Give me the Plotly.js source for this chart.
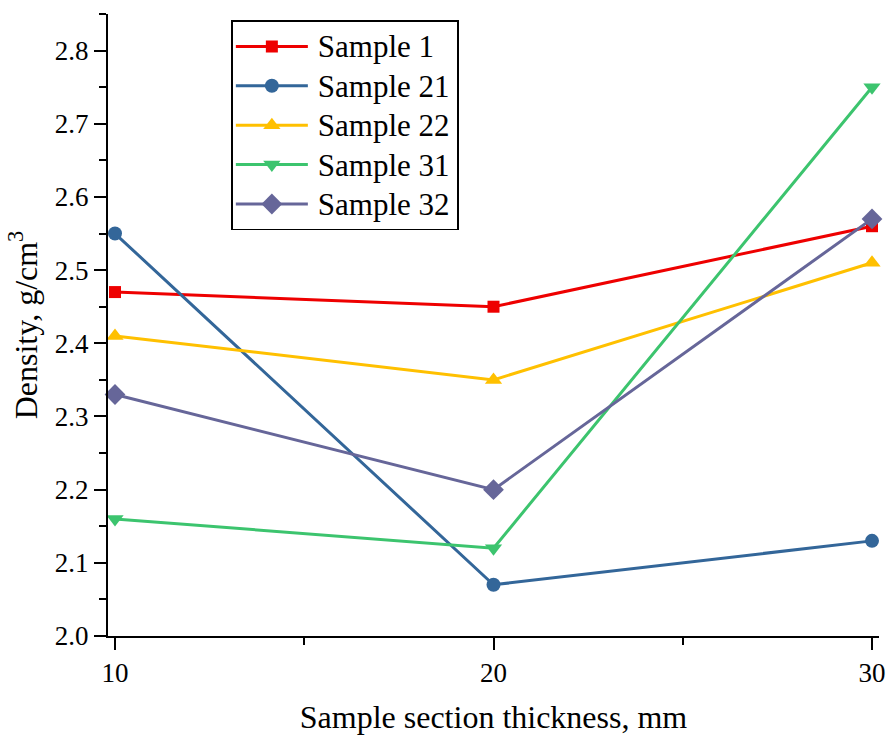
<!DOCTYPE html>
<html>
<head>
<meta charset="utf-8">
<script src="https://cdn.plot.ly/plotly-3.0.1.min.js"></script>
<style>html,body{margin:0;padding:0;background:#fff;}#chart{width:886px;height:735px;}</style>
</head>
<body>
<div id="chart"></div>
<script>
const thickness = [10, 20, 30];
const seriesNames = ["Sample 1", "Sample 21", "Sample 22", "Sample 31", "Sample 32"];
const sample1 = [2.47, 2.45, 2.56];
const sample21 = [2.55, 2.07, 2.13];
const sample22 = [2.41, 2.35, 2.51];
const sample31 = [2.16, 2.12, 2.75];
const sample32 = [2.33, 2.20, 2.57];
const xTickVals = [10, 20, 30];
const yTickVals = [2.0, 2.1, 2.2, 2.3, 2.4, 2.5, 2.6, 2.7, 2.8];

const values = [sample1, sample21, sample22, sample31, sample32];
const colors = ["#ee0000", "#336699", "#ffc000", "#3cc46e", "#666699"];
const symbols = ["square", "circle", "triangle-up", "triangle-down", "diamond"];
const sizes = [12, 14, 15, 15, 16];

const traces = values.map((v, i) => ({
  x: thickness, y: v, name: seriesNames[i], type: "scatter", mode: "lines+markers",
  line: {color: colors[i], width: 3},
  marker: {color: colors[i], symbol: symbols[i], size: sizes[i]},
  cliponaxis: false
}));

const font = "Liberation Serif";
const layout = {
  width: 886, height: 735,
  margin: {l: 108, r: 7, t: 14, b: 99},
  paper_bgcolor: "#fff", plot_bgcolor: "#fff",
  font: {family: font, color: "#000", size: 27},
  showlegend: true,
  legend: {x: 0.16, y: 0.99, xanchor: "left", yanchor: "top",
    bordercolor: "#000", borderwidth: 1.5, bgcolor: "#fff", itemwidth: 75,
    font: {family: font, size: 28, color: "#000"}, tracegroupgap: 0},
  xaxis: {
    range: [9.815, 30.185], tickvals: xTickVals, ticks: "outside", ticklen: 12, tickwidth: 2,
    tickcolor: "#000", showline: true, linecolor: "#000", linewidth: 2, showgrid: false, zeroline: false,
    minor: {dtick: 5, tick0: 10, ticks: "outside", ticklen: 7, tickwidth: 2, tickcolor: "#000"},
    tickfont: {family: font, size: 27, color: "#000"},
    title: {text: "Sample section thickness, mm", font: {family: font, size: 32, color: "#000"}, standoff: 22}
  },
  yaxis: {
    range: [2.0, 2.85], tickvals: yTickVals, tickformat: ".1f", ticks: "outside", ticklen: 12, tickwidth: 2,
    tickcolor: "#000", showline: true, linecolor: "#000", linewidth: 2, showgrid: false, zeroline: false,
    minor: {dtick: 0.05, tick0: 2.0, ticks: "outside", ticklen: 7, tickwidth: 2, tickcolor: "#000"},
    tickfont: {family: font, size: 27, color: "#000"},
    title: {text: "Density, g/cm<sup>3</sup>", font: {family: font, size: 32, color: "#000"}, standoff: 8}
  }
};
Plotly.newPlot("chart", traces, layout, {displayModeBar: false, staticPlot: true}).then(gd => {
  gd.querySelectorAll(".legend .legendlines path").forEach(p => p.setAttribute("d", "M3,0h72"));
  gd.querySelectorAll(".legend .legendpoints path").forEach(p => p.setAttribute("transform", "translate(39,0)"));
  gd.querySelectorAll(".legend text.legendtext").forEach(t => { t.style.fontSize = "31px"; });
  gd.querySelectorAll(".legend rect.bg").forEach(r => r.setAttribute("width", "226"));
  gd.querySelectorAll("defs clipPath rect").forEach(r => {
    const w = parseFloat(r.getAttribute("width") || "0");
    if (w > 150 && w < 240) r.setAttribute("width", "240");
  });
});
</script>
</body>
</html>
